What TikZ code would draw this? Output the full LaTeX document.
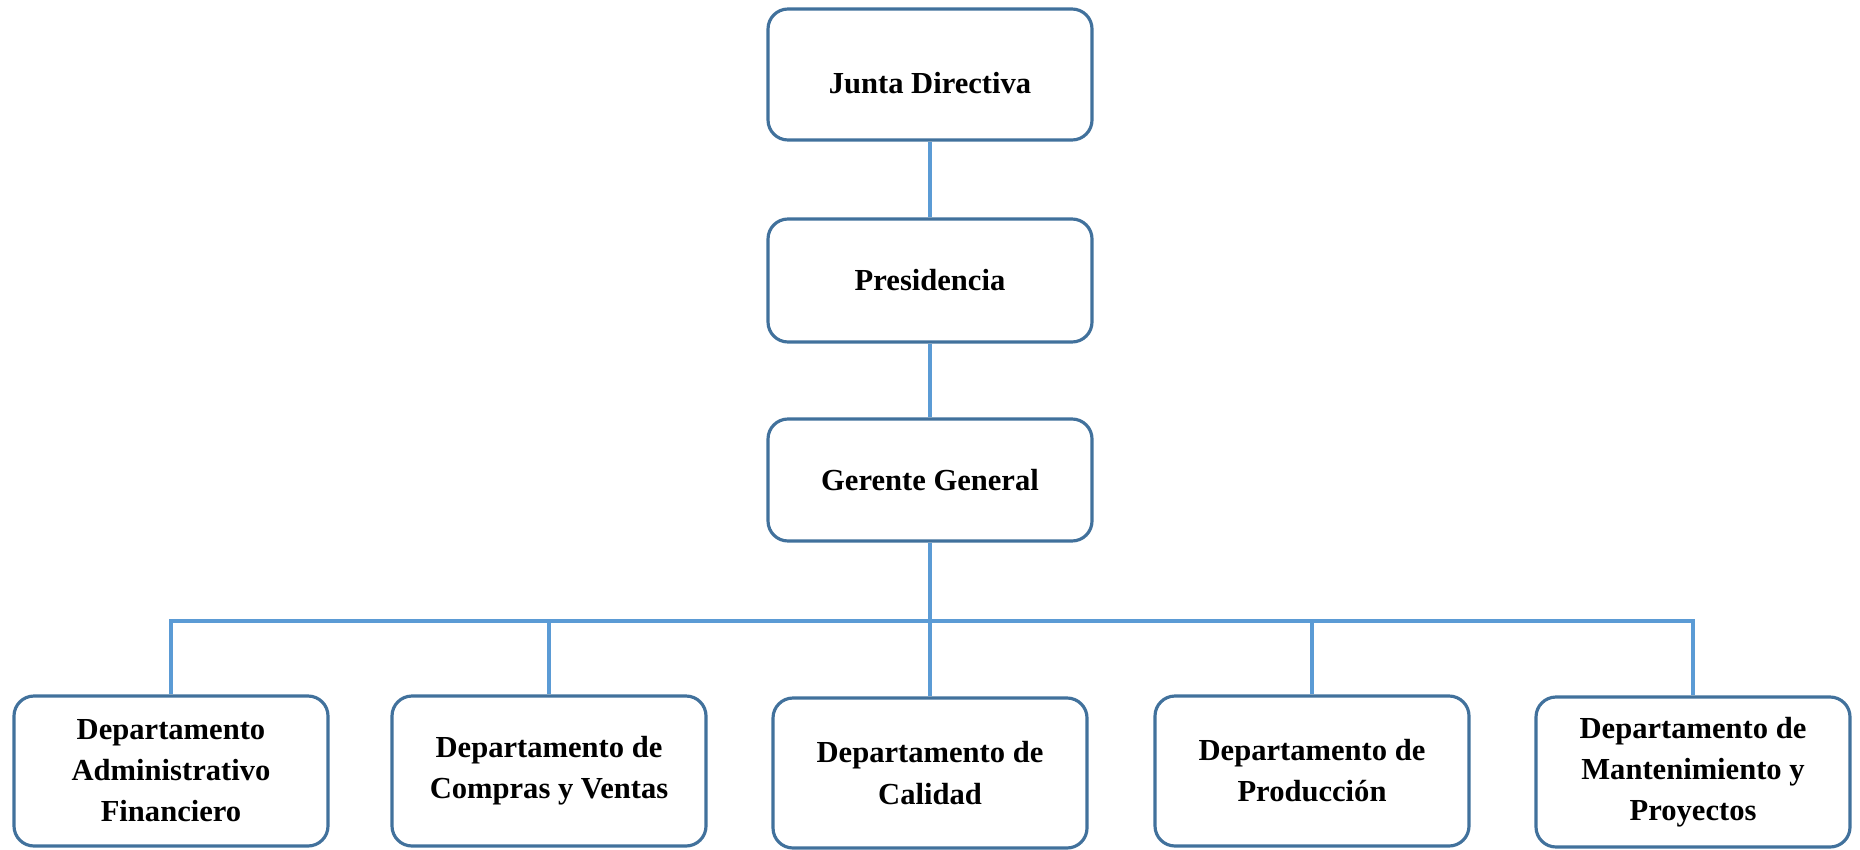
\documentclass[tikz,border=0pt]{standalone}
\usepackage{fontspec}
\setmainfont{Liberation Serif}
\usepackage{tikz}
\usetikzlibrary{positioning}
\usepackage{xcolor}
\definecolor{boxblue}{HTML}{41719C}
\definecolor{lineblue}{HTML}{5B9BD5}
\tikzset{
  unit/.style={draw=boxblue, line width=0.9pt, rounded corners=0.2cm, fill=white,
    align=center, font=\fontsize{8.7}{11.7}\selectfont\bfseries, inner sep=0pt},
  dept/.style={unit, minimum width=3.14cm, minimum height=1.5cm},
  link/.style={draw=lineblue, line width=0.9pt}
}

\begin{document}
\begin{tikzpicture}
\useasboundingbox (0, 0) rectangle (18.6, -8.49);
% direction
\node[unit, minimum width=3.24cm, minimum height=1.31cm, text height=0.38cm] (JD) at (9.30, -0.745) {Junta Directiva};
\node[unit, minimum width=3.24cm, minimum height=1.23cm] (P) at (9.30, -2.805) {Presidencia};
\node[unit, minimum width=3.24cm, minimum height=1.22cm] (G) at (9.30, -4.80) {Gerente General};
% departments
\node[dept] (D1) at (1.71, -7.71) {Departamento\\Administrativo\\Financiero};
\node[dept] (D2) at (5.49, -7.71) {Departamento de\\Compras y Ventas};
\node[dept] (D3) at (9.30, -7.73) {Departamento de\\Calidad};
\node[dept] (D4) at (13.12, -7.71) {Departamento de\\Producción};
\node[dept] (D5) at (16.93, -7.72) {Departamento de\\Mantenimiento y\\Proyectos};
\coordinate (bus) at (9.30, -6.21);

\draw[link] (JD) -- (P);
\draw[link] (P) -- (G);
\draw[link] (G) -- (bus) -- (D3);
\draw[link] (bus) -| (D1);
\draw[link] (bus) -| (D2);
\draw[link] (bus) -| (D4);
\draw[link] (bus) -| (D5);
\end{tikzpicture}
\end{document}
